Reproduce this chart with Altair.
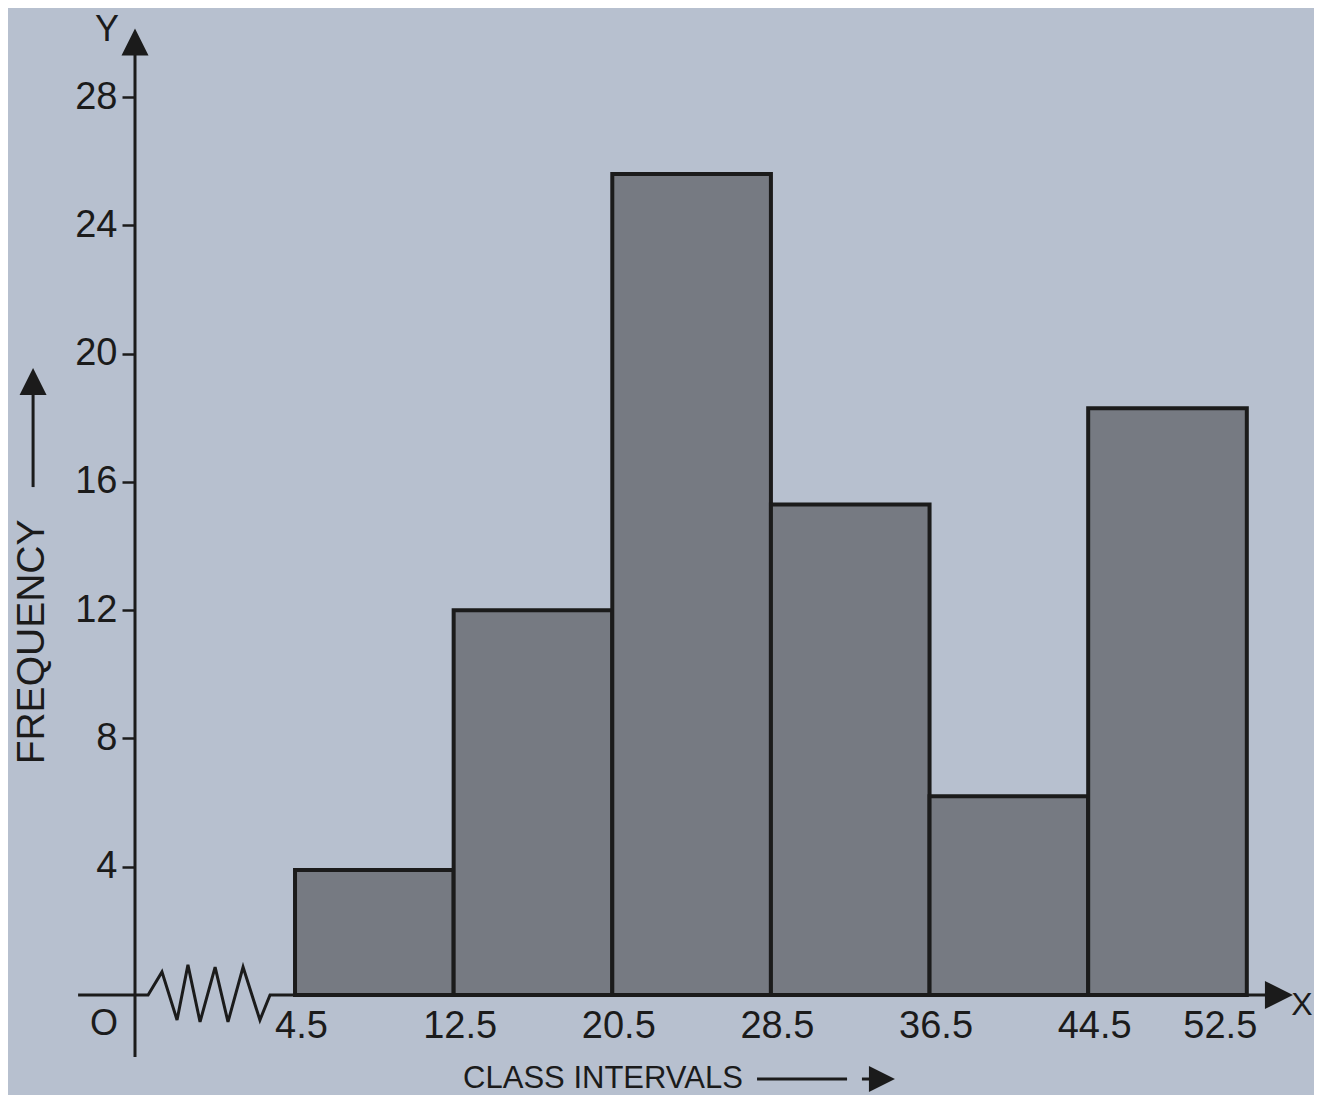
import altair as alt
import pandas as pd

# ---- data ----
class_starts = [4.5, 12.5, 20.5, 28.5, 36.5, 44.5]
class_ends = [12.5, 20.5, 28.5, 36.5, 44.5, 52.5]
frequencies = [3.9, 12, 25.6, 15.3, 6.2, 18.3]
y_ticks = [4, 8, 12, 16, 20, 24, 28]
x_ticks = [4.5, 12.5, 20.5, 28.5, 36.5, 44.5, 52.5]

# broken x-axis (zig-zag) drawn in data units
break_x = [-6.44, -2.91, -2.21, -1.45, -0.90, -0.29, 0.47, 1.12, 1.88, 2.73, 3.24, 4.5, 53.6]
break_y = [0, 0, 0.72, -0.78, 0.94, -0.84, 0.87, -0.84, 0.87, -0.78, 0, 0, 0]

ink = "#1b1b1b"
bg = "#b7c0cf"
barfill = "#767a82"
font = "Liberation Sans"

xs = alt.Scale(domain=[-3.57, 54.93], nice=False, zero=False)
ys = alt.Scale(domain=[0, 30.25], nice=False, zero=False)

xaxis = alt.Axis(values=x_ticks, title=None, domain=False, ticks=False, grid=False,
                 labelFontSize=38, labelFont=font, labelColor=ink, labelPadding=12,
                 labelOffset={"condition": {"test": "datum.value == 52.5", "value": -27}, "value": 6},
                 labelFlush=False, labelOverlap=False, format=".1f")
yaxis = alt.Axis(values=y_ticks, title=None, domain=False, ticks=True, tickSize=13,
                 tickWidth=2.5, tickColor=ink, grid=False, labelFontSize=38,
                 labelFont=font, labelColor=ink, labelPadding=5, format="d")


def X(v):
    return alt.X(datum=v, scale=xs, axis=xaxis)


def Y(v):
    return alt.Y(datum=v, scale=ys, axis=yaxis)


one = pd.DataFrame({"a": [0]})

bars_df = pd.DataFrame({"start": class_starts, "end": class_ends, "freq": frequencies})
bars = alt.Chart(bars_df).mark_rect(fill=barfill, stroke=ink, strokeWidth=4).encode(
    x=alt.X("start:Q", scale=xs, axis=xaxis),
    x2="end:Q",
    y=alt.Y("freq:Q", scale=ys, axis=yaxis),
    y2=alt.datum(0),
)

brk_df = pd.DataFrame({"bx": break_x, "by": break_y, "i": list(range(len(break_x)))})
xline = alt.Chart(brk_df).mark_line(color=ink, strokeWidth=3, strokeJoin="miter").encode(
    x=alt.X("bx:Q", scale=xs, axis=xaxis),
    y=alt.Y("by:Q", scale=ys, axis=yaxis),
    order="i:Q",
)

yline = alt.Chart(one).mark_rule(color=ink, strokeWidth=3).encode(
    x=X(-3.57), y=Y(-1.93), y2=alt.datum(29.4)
)

up_arrow = "M0,-1L1,1L-1,1Z"
right_arrow = "M1,0L-1,-1L-1,1Z"

y_head = alt.Chart(one).mark_point(shape=up_arrow, filled=True, color=ink, opacity=1, size=729).encode(
    x=X(-3.57), y=Y(29.72))
x_head = alt.Chart(one).mark_point(shape=right_arrow, filled=True, color=ink, opacity=1, size=784).encode(
    x=X(54.12), y=Y(0))

lab_Y = alt.Chart(one).mark_text(text="Y", fontSize=36, font=font, color=ink,
                                 align="center", baseline="middle").encode(x=X(-4.98), y=Y(30.09))
lab_X = alt.Chart(one).mark_text(text="X", fontSize=32, font=font, color=ink,
                                 align="center", baseline="middle").encode(x=X(55.28), y=Y(-0.31))
lab_O = alt.Chart(one).mark_text(text="O", fontSize=36, font=font, color=ink,
                                 align="center", baseline="middle").encode(x=X(-5.13), y=Y(-0.90))

freq_txt = alt.Chart(one).mark_text(text="FREQUENCY", fontSize=39, font=font, color=ink, angle=270,
                                    align="center", baseline="middle").encode(x=X(-8.76), y=Y(11.01))
freq_line = alt.Chart(one).mark_rule(color=ink, strokeWidth=3).encode(
    x=X(-8.71), y=Y(15.84), y2=alt.datum(18.9))
freq_head = alt.Chart(one).mark_point(shape=up_arrow, filled=True, color=ink, opacity=1, size=729).encode(
    x=X(-8.71), y=Y(19.13))

class_txt = alt.Chart(one).mark_text(text="CLASS INTERVALS", fontSize=31, font=font, color=ink,
                                     align="center", baseline="middle").encode(x=X(20.03), y=Y(-2.62))
class_line = alt.Chart(one).mark_rule(color=ink, strokeWidth=3).encode(
    x=X(27.80), x2=alt.datum(32.34), y=Y(-2.62))
class_line2 = alt.Chart(one).mark_rule(color=ink, strokeWidth=3).encode(
    x=X(33.09), x2=alt.datum(33.99), y=Y(-2.62))
class_head = alt.Chart(one).mark_point(shape=right_arrow, filled=True, color=ink, opacity=1, size=676).encode(
    x=X(34.10), y=Y(-2.62))

chart = alt.layer(
    bars, xline, yline, y_head, x_head, lab_Y, lab_X, lab_O,
    freq_txt, freq_line, freq_head, class_txt, class_line, class_line2, class_head,
).properties(
    width=1160, height=970,
    padding={"left": 127, "top": 17, "right": 19, "bottom": 100},
    autosize=alt.AutoSizeParams(type="none"),
    background=bg,
).configure_view(stroke=None)

chart.save("out.html", embed_options={"renderer": "svg", "actions": False})
